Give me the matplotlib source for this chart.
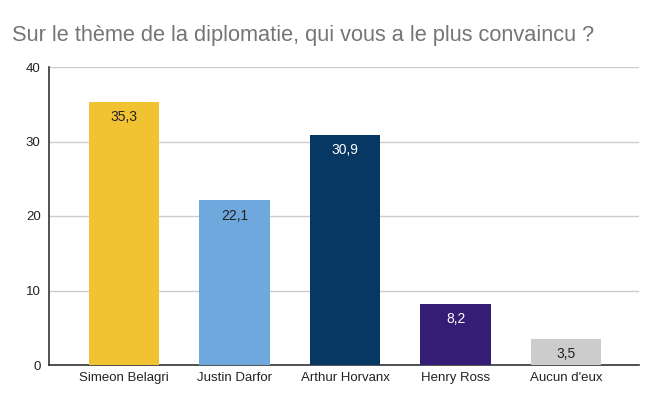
import matplotlib
matplotlib.use("Agg")
import matplotlib.pyplot as plt

categories = ["Simeon Belagri", "Justin Darfor", "Arthur Horvanx", "Henry Ross", "Aucun d'eux"]
values = [35.3, 22.1, 30.9, 8.2, 3.5]
labels = ["35,3", "22,1", "30,9", "8,2", "3,5"]
colors = ["#F1C232", "#6FA8DC", "#073763", "#351C75", "#CCCCCC"]
text_colors = ["#222222", "#222222", "#FFFFFF", "#FFFFFF", "#222222"]
yticks = [0, 10, 20, 30, 40]

plt.rcParams['font.family'] = ['Liberation Sans', 'DejaVu Sans']

fig = plt.figure(figsize=(6.6, 4.08), dpi=100)
ax = fig.add_axes([49/660, 1-365/408, 590/660, 298/408])

x = list(range(len(categories)))
ax.bar(x, values, width=0.64, color=colors, zorder=3)
for xi, v, lab, tc in zip(x, values, labels, text_colors):
    ax.annotate(lab, (xi, v), xytext=(0, -11), textcoords="offset points",
                ha="center", va="center", fontsize=10, color=tc, zorder=4)

ax.set_xlim(-0.68, 4.66)
ax.set_ylim(0, 40)
ax.set_yticks(yticks)
ax.set_xticks(x)
ax.set_xticklabels(categories)
ax.tick_params(axis='both', length=0, labelsize=9.5, colors="#222222")
ax.tick_params(axis='y', pad=6)
ax.tick_params(axis='x', pad=5)
ax.grid(axis='y', color="#CCCCCC", linewidth=1, zorder=0)
for s in ["top", "right"]:
    ax.spines[s].set_visible(False)
ax.spines["left"].set_color("#333333")
ax.spines["bottom"].set_color("#333333")
ax.spines["left"].set_linewidth(1.2)
ax.spines["bottom"].set_linewidth(1.2)

fig.text(12/660, 1-35/408, "Sur le thème de la diplomatie, qui vous a le plus convaincu ?",
         fontsize=15.7, color="#757575", ha="left", va="center")

fig.savefig("out.png", dpi=100)
